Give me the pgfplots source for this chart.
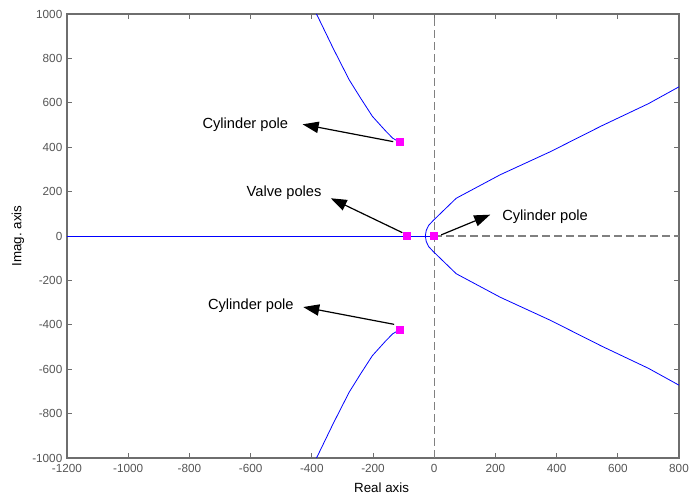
\documentclass[border=0pt]{standalone}
\usepackage{fontspec}
\setmainfont{Liberation Sans}
\usepackage{pgfplots}
\pgfplotsset{compat=1.18}
\usetikzlibrary{arrows.meta}
\definecolor{axgray}{RGB}{110,110,110}
\definecolor{tickgray}{RGB}{85,85,85}
\definecolor{dashgray}{RGB}{128,128,128}
\definecolor{polemag}{RGB}{255,0,255}
\begin{document}
\begin{tikzpicture}
\useasboundingbox (-50.25pt,-30pt) rectangle (470.25pt,343.5pt);
\begin{axis}[
  at={(0,0)}, anchor=south west,
  scale only axis, width=459pt, height=333pt,
  xmin=-1200, xmax=800, ymin=-1000, ymax=1000,
  xtick={-1200,-1000,...,800}, ytick={-1000,-800,...,1000},
  tick align=inside,
  axis line style={axgray, line width=0.8pt},
  major tick style={axgray, line width=0.6pt},
  major tick length=4pt,
  ticklabel style={font=\fontsize{8.8}{10}\selectfont, text=tickgray},
  /pgf/number format/assume math mode=true,
  /pgf/number format/1000 sep={},
  xticklabel style={yshift=-1pt},
  xlabel={Real axis}, ylabel={Imag.\ axis},
  label style={font=\fontsize{11}{13}\selectfont},
  every axis x label/.style={at={(axis description cs:0.514,-0.0676)}, anchor=center},
  every axis y label/.style={at={(axis description cs:-0.0801,0.5)}, anchor=center, rotate=90},
  clip=true,
]
% dashed axes
\addplot[dashgray, line width=0.9pt, dash pattern=on 6pt off 3pt] coordinates {(0,-1000) (0,1000)};
\addplot[dashgray, line width=0.9pt, dash pattern=on 6pt off 3pt] coordinates {(0,0) (800,0)};
% root locus branches
\addplot[blue, line width=0.6pt] coordinates {(-1200,0) (0,0)};
\addplot[blue, line width=0.6pt] coordinates {
(-112,423) (-125,432) (-136,441) (-160,475) (-202,539) (-240,620) (-278,704) (-330,845) (-381,990) (-385,1000)};
\addplot[blue, line width=0.6pt] coordinates {
(-112,-423) (-125,-432) (-136,-441) (-160,-475) (-202,-539) (-240,-620) (-278,-704) (-330,-845) (-381,-990) (-385,-1000)};
\addplot[blue, line width=0.6pt] coordinates {
(800,672) (700,596) (547,496) (380,380) (216,276) (72,170) (-3,70) (-18,48) (-26,25) (-29,0)
(-26,-25) (-18,-48) (-3,-70) (72,-170) (216,-276) (380,-380) (547,-496) (700,-596) (800,-672)};
% poles
\addplot[only marks, mark=square*, mark size=2.6pt, mark options={fill=polemag, draw=polemag}] coordinates {
(-112,423) (-112,-423) (-90,0) (0,0)};
% annotations
\draw[line width=0.9pt, -{Triangle[length=12pt,width=8.5pt]}] (axis cs:-134,425) -- (axis cs:-430,503);
\node[anchor=east, font=\fontsize{11}{13}\selectfont] at (axis cs:-462,503) {Cylinder pole};
\draw[line width=0.9pt, -{Triangle[length=12pt,width=8.5pt]}] (axis cs:-104,15) -- (axis cs:-338,170);
\node[anchor=east, font=\fontsize{11}{13}\selectfont] at (axis cs:-353,195) {Valve poles};
\draw[line width=0.9pt, -{Triangle[length=12pt,width=8.5pt]}] (axis cs:23,5) -- (axis cs:183,96);
\node[anchor=west, font=\fontsize{11}{13}\selectfont] at (axis cs:207,88) {Cylinder pole};
\draw[line width=0.9pt, -{Triangle[length=12pt,width=8.5pt]}] (axis cs:-131,-398) -- (axis cs:-428,-320);
\node[anchor=east, font=\fontsize{11}{13}\selectfont] at (axis cs:-444,-315) {Cylinder pole};
\end{axis}
\end{tikzpicture}
\end{document}
